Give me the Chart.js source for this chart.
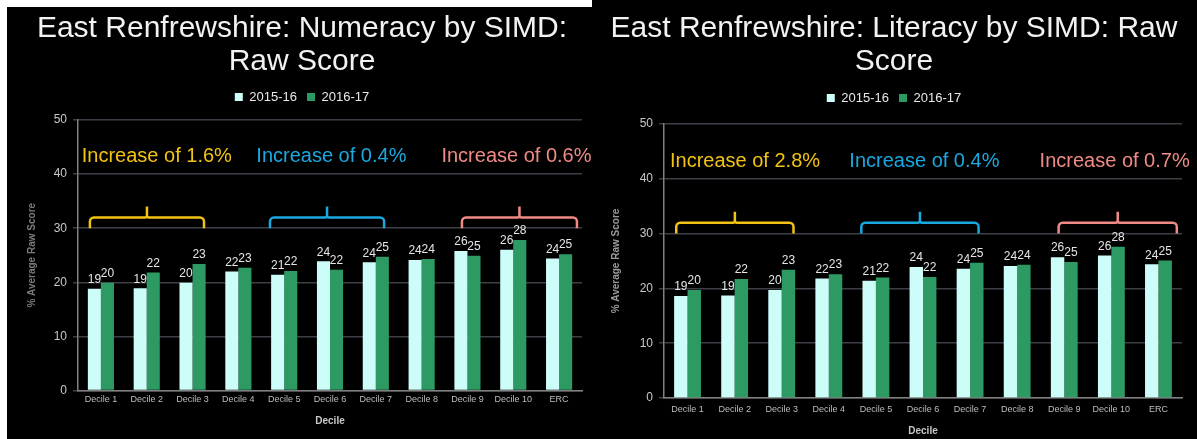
<!DOCTYPE html>
<html>
<head>
<meta charset="utf-8">
<script src="https://cdn.jsdelivr.net/npm/chart.js@4.4.1/dist/chart.umd.min.js"></script>
<style>
  html, body { margin: 0; padding: 0; background: #000; }
  body { width: 1197px; height: 439px; position: relative; overflow: hidden; }
  .strip { position: absolute; background: #fff; }
  .panel { position: absolute; }
  #left { left: 7px; top: 7px; width: 588px; height: 432px; }
  #right { left: 600px; top: 0; width: 597px; height: 439px; }
</style>
</head>
<body>
<div class="strip" style="left:0;top:0;width:592px;height:7px"></div>
<div class="strip" style="left:0;top:0;width:7px;height:439px"></div>
<div class="panel" id="left"><canvas id="numeracyChart"></canvas></div>
<div class="panel" id="right"><canvas id="literacyChart"></canvas></div>

<script>
// data
const deciles = ['Decile 1', 'Decile 2', 'Decile 3', 'Decile 4', 'Decile 5', 'Decile 6', 'Decile 7', 'Decile 8', 'Decile 9', 'Decile 10', 'ERC'];
const years = ['2015-16', '2016-17'];
const numeracy1516 = [18.8, 18.9, 19.9, 22.0, 21.4, 23.9, 23.7, 24.1, 25.8, 26.0, 24.4];
const numeracy1617 = [19.9, 21.8, 23.4, 22.7, 22.1, 22.3, 24.7, 24.3, 24.9, 27.8, 25.2];
const literacy1516 = [18.6, 18.7, 19.7, 21.8, 21.4, 23.9, 23.6, 24.1, 25.7, 26.0, 24.4];
const literacy1617 = [19.7, 21.7, 23.4, 22.6, 22.0, 22.1, 24.7, 24.3, 24.8, 27.6, 25.1];
const numeracyNotes = ['Increase of 1.6%', 'Increase of 0.4%', 'Increase of 0.6%'];
const literacyNotes = ['Increase of 2.8%', 'Increase of 0.4%', 'Increase of 0.7%'];

const FONT = '"Liberation Sans", Arial, sans-serif';

// where the braces + notes sit (category units)
const groupSpans = [[-0.24, 2.25], [3.69, 6.18], [7.88, 10.39]];
const noteCentres = [1.22, 5.03, 9.07];
const noteColours = ['#f2c314', '#1aa8e0', '#f08a85'];

function drawBrace(ctx, x0, x1, yEnd, yLine, yTip) {
    let r = 4, xm = (x0 + x1) / 2;
    ctx.beginPath();
    ctx.moveTo(x0, yEnd);
    ctx.arcTo(x0, yLine, x0 + r, yLine, r);
    ctx.lineTo(xm - 2, yLine);
    ctx.arcTo(xm, yLine, xm, yLine - 2, 2);
    ctx.lineTo(xm, yTip);
    ctx.moveTo(xm, yLine - 2);
    ctx.arcTo(xm, yLine, xm + 2, yLine, 2);
    ctx.lineTo(x1 - r, yLine);
    ctx.arcTo(x1, yLine, x1, yEnd, r);
    ctx.lineTo(x1, yEnd);
    ctx.stroke();
}

function makeChart(id, titleLines, notes, before, after, look) {
    const extras = {
        id: 'extras',
        afterInit(chart) {
            // the legend leaves too little room under it
            const lg = chart.legend;
            const fit = lg.fit;
            lg.fit = function () { fit.call(this); this.height += look.legendGap; };
        },
        afterDatasetsDraw(chart) {
            const ctx = chart.ctx;
            const xs = chart.scales.x, ys = chart.scales.y;
            ctx.save();
            ctx.textAlign = 'center';
            ctx.textBaseline = 'middle';
            // value labels over the bars
            ctx.font = '12px ' + FONT;
            ctx.fillStyle = '#e6e6e6';
            chart.data.datasets.forEach((ds, i) => {
                chart.getDatasetMeta(i).data.forEach((bar, j) => {
                    ctx.fillText(Math.round(ds.data[j]), bar.x, bar.y - 9);
                });
            });
            // braces and the increase notes
            ctx.lineWidth = 2.5;
            ctx.font = '20px ' + FONT;
            groupSpans.forEach((span, k) => {
                ctx.strokeStyle = noteColours[k];
                ctx.fillStyle = noteColours[k];
                drawBrace(ctx, xs.getPixelForValue(span[0]), xs.getPixelForValue(span[1]),
                    ys.getPixelForValue(30), ys.getPixelForValue(32), ys.getPixelForValue(34));
                ctx.fillText(notes[k], xs.getPixelForValue(noteCentres[k]), ys.getPixelForValue(43.2));
            });
            ctx.restore();
        }
    };

    return new Chart(document.getElementById(id), {
        type: 'bar',
        data: {
            labels: deciles,
            datasets: [
                { label: years[0], data: before, backgroundColor: '#ccfdf9', categoryPercentage: 0.57, barPercentage: 1 },
                { label: years[1], data: after, backgroundColor: '#2e9a63', categoryPercentage: 0.57, barPercentage: 1 }
            ]
        },
        options: {
            responsive: true,
            maintainAspectRatio: false,
            animation: false,
            layout: { padding: { left: look.padLeft, right: look.padRight, top: 0, bottom: 0 } },
            plugins: {
                title: {
                    display: true, text: titleLines, color: '#f2f2f2',
                    font: { size: 30, family: FONT, weight: 'normal', lineHeight: '33px' },
                    padding: { top: look.titleTop, bottom: look.titleBottom }
                },
                legend: {
                    position: 'top',
                    labels: { color: '#e8e8e8', font: { size: 13, family: FONT }, boxWidth: 8, boxHeight: 8, padding: 10 }
                },
                tooltip: { enabled: false }
            },
            scales: {
                x: {
                    grid: { display: false, drawTicks: false },
                    border: { color: '#808080', width: 1.5 },
                    ticks: { color: '#bdbdbd', font: { size: 9, family: FONT }, padding: look.xTickPad, maxRotation: 0, autoSkip: false },
                    title: { display: true, text: 'Decile', color: '#c8c8c8', font: { size: 10, weight: 'bold', family: FONT }, padding: { top: 0, bottom: look.xTitleBottom } },
                    afterFit: s => { s.height = look.xHeight; }
                },
                y: {
                    min: 0, max: 50,
                    ticks: { stepSize: 10, color: '#c8c8c8', font: { size: 12, family: FONT }, padding: 6 },
                    grid: { color: '#3c4046', lineWidth: 1.5, tickLength: 5 },
                    border: { color: '#808080', width: 1.5 },
                    title: { display: true, text: '% Average Raw Score', color: look.yTitleColour, font: { size: 10, weight: 'bold', family: FONT }, padding: { top: 4, bottom: 0 } },
                    afterFit: s => { s.width = look.yWidth; }
                }
            }
        },
        plugins: [extras]
    });
}

makeChart('numeracyChart', ['East Renfrewshire: Numeracy by SIMD:', 'Raw Score'], numeracyNotes, numeracy1516, numeracy1617, {
    padLeft: 15, padRight: 13, yWidth: 56, titleTop: 5, titleBottom: 2.5, legendGap: 6.5,
    xHeight: 48.5, xTickPad: 4, xTitleBottom: 12, yTitleColour: '#7a7a7a'
});
makeChart('literacyChart', ['East Renfrewshire: Literacy by SIMD: Raw', 'Score'], literacyNotes, literacy1516, literacy1617, {
    padLeft: 6, padRight: 15, yWidth: 58, titleTop: 12, titleBottom: 3.5, legendGap: 9.5,
    xHeight: 41, xTickPad: 6.5, xTitleBottom: 2, yTitleColour: '#9a9a9a'
});
</script>
</body>
</html>
